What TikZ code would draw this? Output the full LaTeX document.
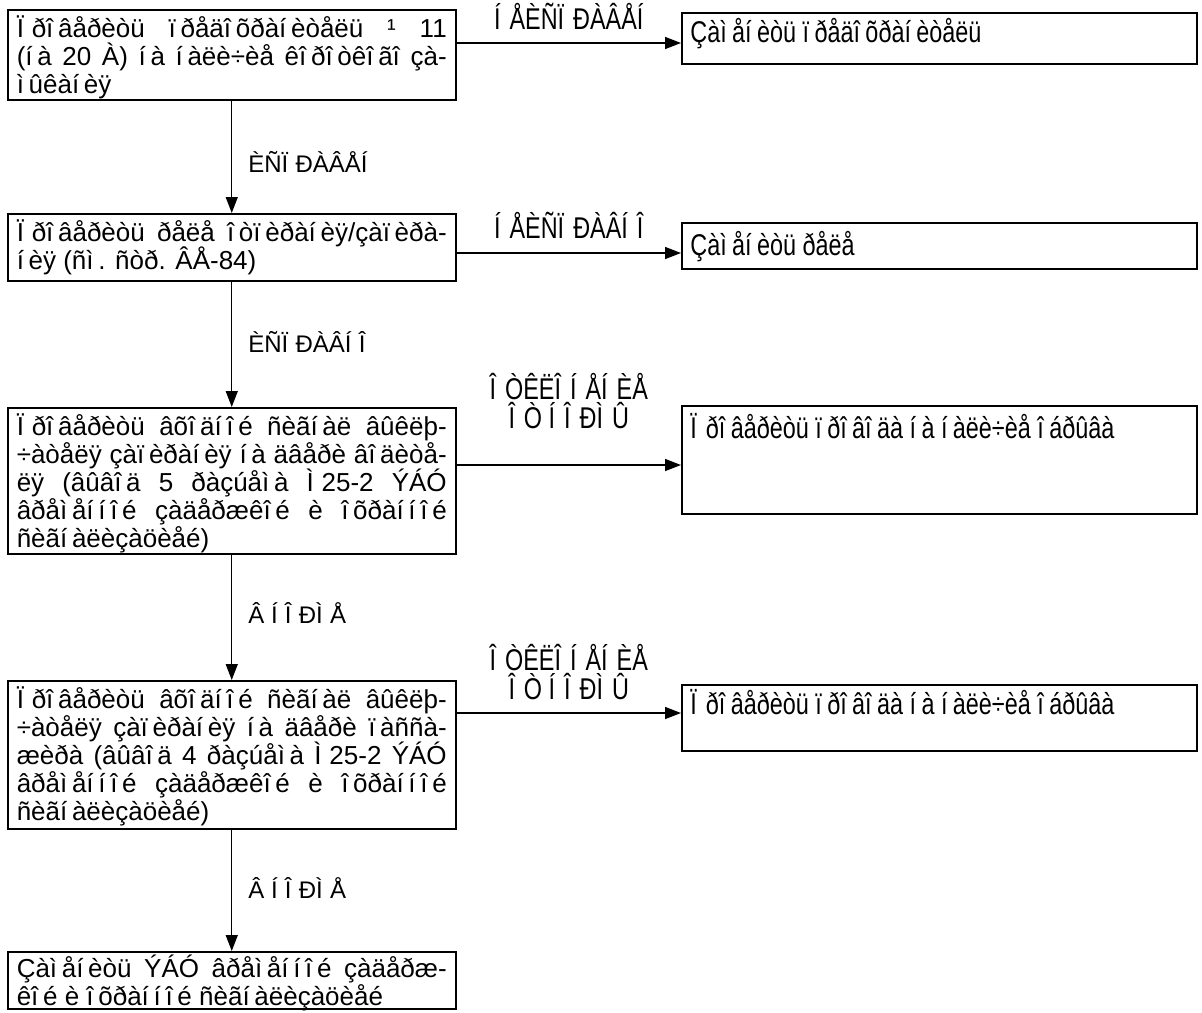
\documentclass[tikz,border=0pt]{standalone}
\usepackage{fontspec}
\setmainfont{Liberation Sans}
\newfontfamily\narrowfont[FakeStretch=0.78]{Liberation Sans}
\usetikzlibrary{arrows.meta,calc}
\newcommand\gs{\kern.18em}
\newcommand\Gs{\kern.3em}
\newlength\firsth
\setlength\firsth{14pt}
\newcommand\jline[1]{\hbox to 215pt{\vrule height \firsth depth 1pt width 0pt\relax #1}}
\newcommand\eline[1]{\hbox{\vrule height \firsth depth 1pt width 0pt\relax #1}}
\newcommand\fixlines{\baselineskip=14pt\lineskip=0pt\lineskiplimit=-100pt\relax}
\begin{document}
\begin{tikzpicture}[x=0.5pt,y=-0.5pt,
  lbox/.style={draw=black, line width=0.75pt, inner xsep=4.5pt, inner ysep=0pt, anchor=north west, font=\fontsize{13}{14}\selectfont},
  rbox/.style={draw=black, line width=0.75pt, minimum width=257.5pt, inner sep=0pt, anchor=north west},
  rtext/.style={anchor=base west, inner sep=0pt, font=\narrowfont\fontsize{15}{12.5}\selectfont},
  arr/.style={line width=0.7pt, -{Triangle[length=8pt,width=6pt]}},
  hlab/.style={inner sep=0pt, align=center, font=\narrowfont\fontsize{15}{12.5}\selectfont},
  vlab/.style={anchor=base west, inner sep=0pt, font=\fontsize{12}{14}\selectfont}]
\fill[white] (0,0) rectangle (1202,1012);
\useasboundingbox (0,0) rectangle (1202,1012);

% left column
\node[lbox] (b1) at (7,9) {\vbox to 45pt{\fixlines
\jline{Ï\Gs ðî\gs âåðèòü ï\gs ðåäî\gs õðàí\gs èòåëü ¹ 11}
\jline{(í\gs à 20 À) í\gs à í\gs àëè÷èå êî\gs ðî\gs òêî\gs ãî çà-}
\eline{ì\gs ûêàí\gs èÿ}\vfill}};

\node[lbox] (b2) at (7,213) {\vbox to 33.5pt{\fixlines
\jline{Ï\Gs ðî\gs âåðèòü ðåëå î\gs òï\gs èðàí\gs èÿ/çàï\gs èðà-}
\eline{í\gs èÿ (ñì\gs . ñòð. ÂÅ-84)}\vfill}};

\node[lbox] (b3) at (7,407) {\vbox to 73pt{\fixlines
\jline{Ï\Gs ðî\gs âåðèòü âõî\gs äí\gs î\gs é ñèãí\gs àë âûêëþ-}
\jline{÷àòåëÿ çàï\gs èðàí\gs èÿ í\gs à äâåðè âî\gs äèòå-}
\jline{ëÿ (âûâî\gs ä 5 ðàçúåì\gs à Ì\Gs 25-2 ÝÁÓ}
\jline{âðåì\gs åí\gs í\gs î\gs é çàäåðæêî\gs é è î\gs õðàí\gs í\gs î\gs é}
\eline{ñèãí\gs àëèçàöèåé)}\vfill}};

\node[lbox] (b4) at (7,680) {\vbox to 74pt{\fixlines
\jline{Ï\Gs ðî\gs âåðèòü âõî\gs äí\gs î\gs é ñèãí\gs àë âûêëþ-}
\jline{÷àòåëÿ çàï\gs èðàí\gs èÿ í\gs à äâåðè ï\gs àññà-}
\jline{æèðà (âûâî\gs ä 4 ðàçúåì\gs à Ì\Gs 25-2 ÝÁÓ}
\jline{âðåì\gs åí\gs í\gs î\gs é çàäåðæêî\gs é è î\gs õðàí\gs í\gs î\gs é}
\eline{ñèãí\gs àëèçàöèåé)}\vfill}};

\node[lbox] (b5) at (7,951) {\setlength\firsth{13pt}\vbox to 28.5pt{\fixlines
\jline{Çàì\gs åí\gs èòü ÝÁÓ âðåì\gs åí\gs í\gs î\gs é çàäåðæ-}
\eline{êî\gs é è î\gs õðàí\gs í\gs î\gs é ñèãí\gs àëèçàöèåé}\vfill}};

% right column
\node[rbox, minimum height=25.5pt] (r1) at (681,12) {};
\node[rtext] (t1) at (690,42) {Çàì\gs åí\gs èòü ï\gs ðåäî\gs õðàí\gs èòåëü};
\node[rbox, minimum height=23pt] (r2) at (681,222) {};
\node[rtext] (t2) at (690,255) {Çàì\gs åí\gs èòü ðåëå};
\node[rbox, minimum height=54pt] (r3) at (681,405) {};
\node[rtext] (t3) at (690,438) {Ï\Gs ðî\gs âåðèòü ï\gs ðî\gs âî\gs äà í\gs à í\gs àëè÷èå î\gs áðûâà};
\node[rbox, minimum height=33pt] (r4) at (681,684) {};
\node[rtext] (t4) at (690,714) {Ï\Gs ðî\gs âåðèòü ï\gs ðî\gs âî\gs äà í\gs à í\gs àëè÷èå î\gs áðûâà};

% horizontal connectors
\coordinate (h1) at (0,43);
\coordinate (h2) at (0,253);
\coordinate (h3) at (0,465);
\coordinate (h4) at (0,713);
\draw[arr] (b1.east |- h1) -- node[hlab, midway, anchor=south, yshift=6.5pt] (l1) {Í\Gs ÅÈÑÏ\Gs ÐÀÂÅÍ} (r1.west |- h1);
\draw[arr] (b2.east |- h2) -- node[hlab, midway, anchor=south, yshift=7pt] (l2) {Í\Gs ÅÈÑÏ\Gs ÐÀÂÍ\Gs Î} (r2.west |- h2);
\draw[arr] (b3.east |- h3) -- node[hlab, midway, anchor=south, yshift=18pt] (l3) {Î\Gs ÒÊËÎ\Gs Í\Gs ÅÍ\Gs ÈÅ\\Î\Gs Ò Í\Gs Î\Gs ÐÌ\Gs Û} (r3.west |- h3);
\draw[arr] (b4.east |- h4) -- node[hlab, midway, anchor=south, yshift=6.5pt] (l4) {Î\Gs ÒÊËÎ\Gs Í\Gs ÅÍ\Gs ÈÅ\\Î\Gs Ò Í\Gs Î\Gs ÐÌ\Gs Û} (r4.west |- h4);

% vertical connectors
\draw[arr] (b1.south) -- (b2.north);
\draw[arr] (b2.south) -- (b3.north);
\draw[arr] (b3.south) -- (b4.north);
\draw[arr] (b4.south) -- (b5.north);
\node[vlab] (v1) at (248,172) {ÈÑÏ\Gs ÐÀÂÅÍ};
\node[vlab] (v2) at (248,352) {ÈÑÏ\Gs ÐÀÂÍ\Gs Î};
\node[vlab] (v3) at (248,623) {Â Í\Gs Î\Gs ÐÌ\Gs Å};
\node[vlab] (v4) at (248,898) {Â Í\Gs Î\Gs ÐÌ\Gs Å};
\end{tikzpicture}
\end{document}
